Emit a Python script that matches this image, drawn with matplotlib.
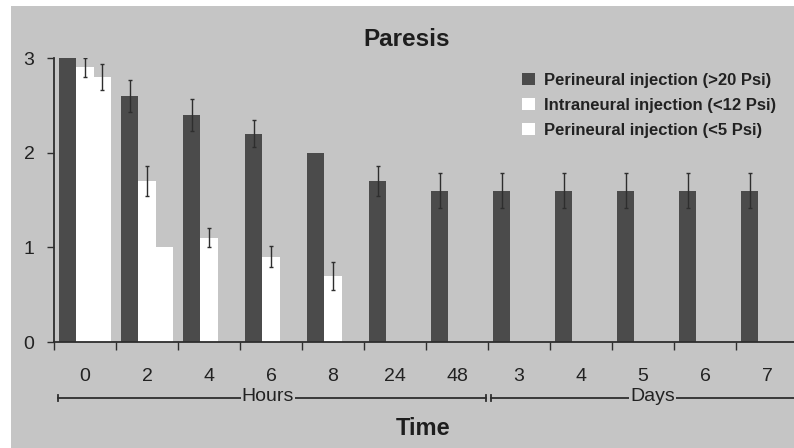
import numpy as np
import matplotlib
matplotlib.use("Agg")
import matplotlib.pyplot as plt
from matplotlib.patches import Rectangle, Patch
from matplotlib.lines import Line2D
import matplotlib.transforms as mtransforms

plt.rcParams['font.family'] = ['Liberation Sans', 'DejaVu Sans']

categories = ['0', '2', '4', '6', '8', '24', '48', '3', '4', '5', '6', '7']
perineural_high = [3.0, 2.6, 2.4, 2.2, 2.0, 1.7, 1.6, 1.6, 1.6, 1.6, 1.6, 1.6]
perineural_high_err = [np.nan, 0.17, 0.17, 0.14, np.nan, 0.16, 0.18, 0.18, 0.18, 0.18, 0.18, 0.18]
intraneural = [2.9, 1.7, 1.1, 0.9, 0.7] + [np.nan] * 7
intraneural_err = [0.1, 0.16, 0.1, 0.11, 0.15] + [np.nan] * 7
perineural_low = [2.8, 1.0] + [np.nan] * 10
perineural_low_err = [0.14, np.nan] + [np.nan] * 10
series_labels = ['Perineural injection (>20 Psi)',
                 'Intraneural injection (<12 Psi)',
                 'Perineural injection (<5 Psi)']

BG = '#c5c5c5'
DARK = '#4b4b4b'
LINE = '#2e2e2e'

W, H = 794, 448
fig = plt.figure(figsize=(W / 100, H / 100), dpi=100, facecolor='white')
fig.patches.append(Rectangle((11 / W, 0), 1 - 11 / W, 1 - 6 / H,
                             transform=fig.transFigure, facecolor=BG,
                             edgecolor='none', zorder=-10))

ax = fig.add_axes([54 / W, (H - 342) / H, 744 / W, (342 - 58) / H])
ax.set_facecolor('none')

x = np.arange(len(categories))
bw = 0.285
offs = [-0.28, 0.0, 0.28]
ekw = dict(ecolor=LINE, elinewidth=1.0, capsize=1.5, capthick=1.0, fmt='none', zorder=3)

ax.bar(x + offs[0], perineural_high, width=bw, color=DARK, zorder=2)
ax.errorbar(x + offs[0], perineural_high, yerr=perineural_high_err, **ekw)
ax.bar(x + offs[1], intraneural, width=bw, color='white', zorder=2)
ax.errorbar(x + offs[1], intraneural, yerr=intraneural_err, **ekw)
ax.bar(x + offs[2], perineural_low, width=bw, color='white', zorder=2)
ax.errorbar(x + offs[2], perineural_low, yerr=perineural_low_err, **ekw)

ax.set_xlim(-0.5, len(categories) - 0.5)
ax.set_ylim(0, 3)
ax.set_yticks([0, 1, 2, 3])
ax.set_yticklabels(['0', '1', '2', '3'], fontsize=14, color='#222222')
ax.set_xticks(x)
ax.set_xticklabels(categories, fontsize=14, color='#222222')
ax.set_xticks(np.arange(len(categories)) - 0.5, minor=True)
ax.tick_params(axis='x', which='major', length=0, pad=19)
ax.tick_params(axis='x', which='minor', length=6, width=1.0, color=LINE, direction='out')
ax.tick_params(axis='y', length=5, width=1.0, color=LINE, direction='out', pad=9)
for s in ['top', 'right']:
    ax.spines[s].set_visible(False)
for s in ['left', 'bottom']:
    ax.spines[s].set_color(LINE)
    ax.spines[s].set_linewidth(1.3)

# Hours / Days brackets
trans = mtransforms.blended_transform_factory(ax.transData, fig.transFigure)
yl = 1 - 398 / H
hours_x = (-0.44, 6.47)
days_x = (6.55, 11.5)
for (a, b) in (hours_x, days_x):
    ax.add_line(Line2D([a, b], [yl, yl], transform=trans, color=LINE, lw=1.3, clip_on=False))
    ax.add_line(Line2D([a, a], [yl - 3 / H, yl + 3 / H], transform=trans, color=LINE, lw=1.3, clip_on=False))
    ax.add_line(Line2D([b, b], [yl - 3 / H, yl + 3 / H], transform=trans, color=LINE, lw=1.3, clip_on=False))
narrow = ['Liberation Sans Narrow', 'Liberation Sans', 'DejaVu Sans']
for txt, xc in (('Hours', 2.95), ('Days', 9.15)):
    ax.text(xc, yl + 1.5 / H, txt, transform=trans, ha='center', va='center', fontsize=14,
            family=narrow, color='#222222',
            bbox=dict(boxstyle='square,pad=0.05', facecolor=BG, edgecolor='none'))

fig.text(423 / W, 1 - 428 / H, 'Time', ha='center', va='center', fontsize=17,
         fontweight='bold', color='#1e1e1e')
fig.text(407 / W, 1 - 40 / H, 'Paresis', ha='center', va='center', fontsize=17.5,
         fontweight='bold', color='#1e1e1e')

handles = [Patch(facecolor=DARK, edgecolor='none'),
           Patch(facecolor='white', edgecolor='none'),
           Patch(facecolor='white', edgecolor='none')]
leg = fig.legend(handles, series_labels, loc='upper left',
                 bbox_to_anchor=(522 / W, 1 - 73 / H), frameon=False,
                 prop={'size': 12, 'weight': 'bold'}, handlelength=0.75,
                 handleheight=0.75, handletextpad=0.55, labelspacing=0.6,
                 borderpad=0, borderaxespad=0)
for t in leg.get_texts():
    t.set_color('#222222')

fig.savefig('out.png', dpi=100, facecolor=fig.get_facecolor())
